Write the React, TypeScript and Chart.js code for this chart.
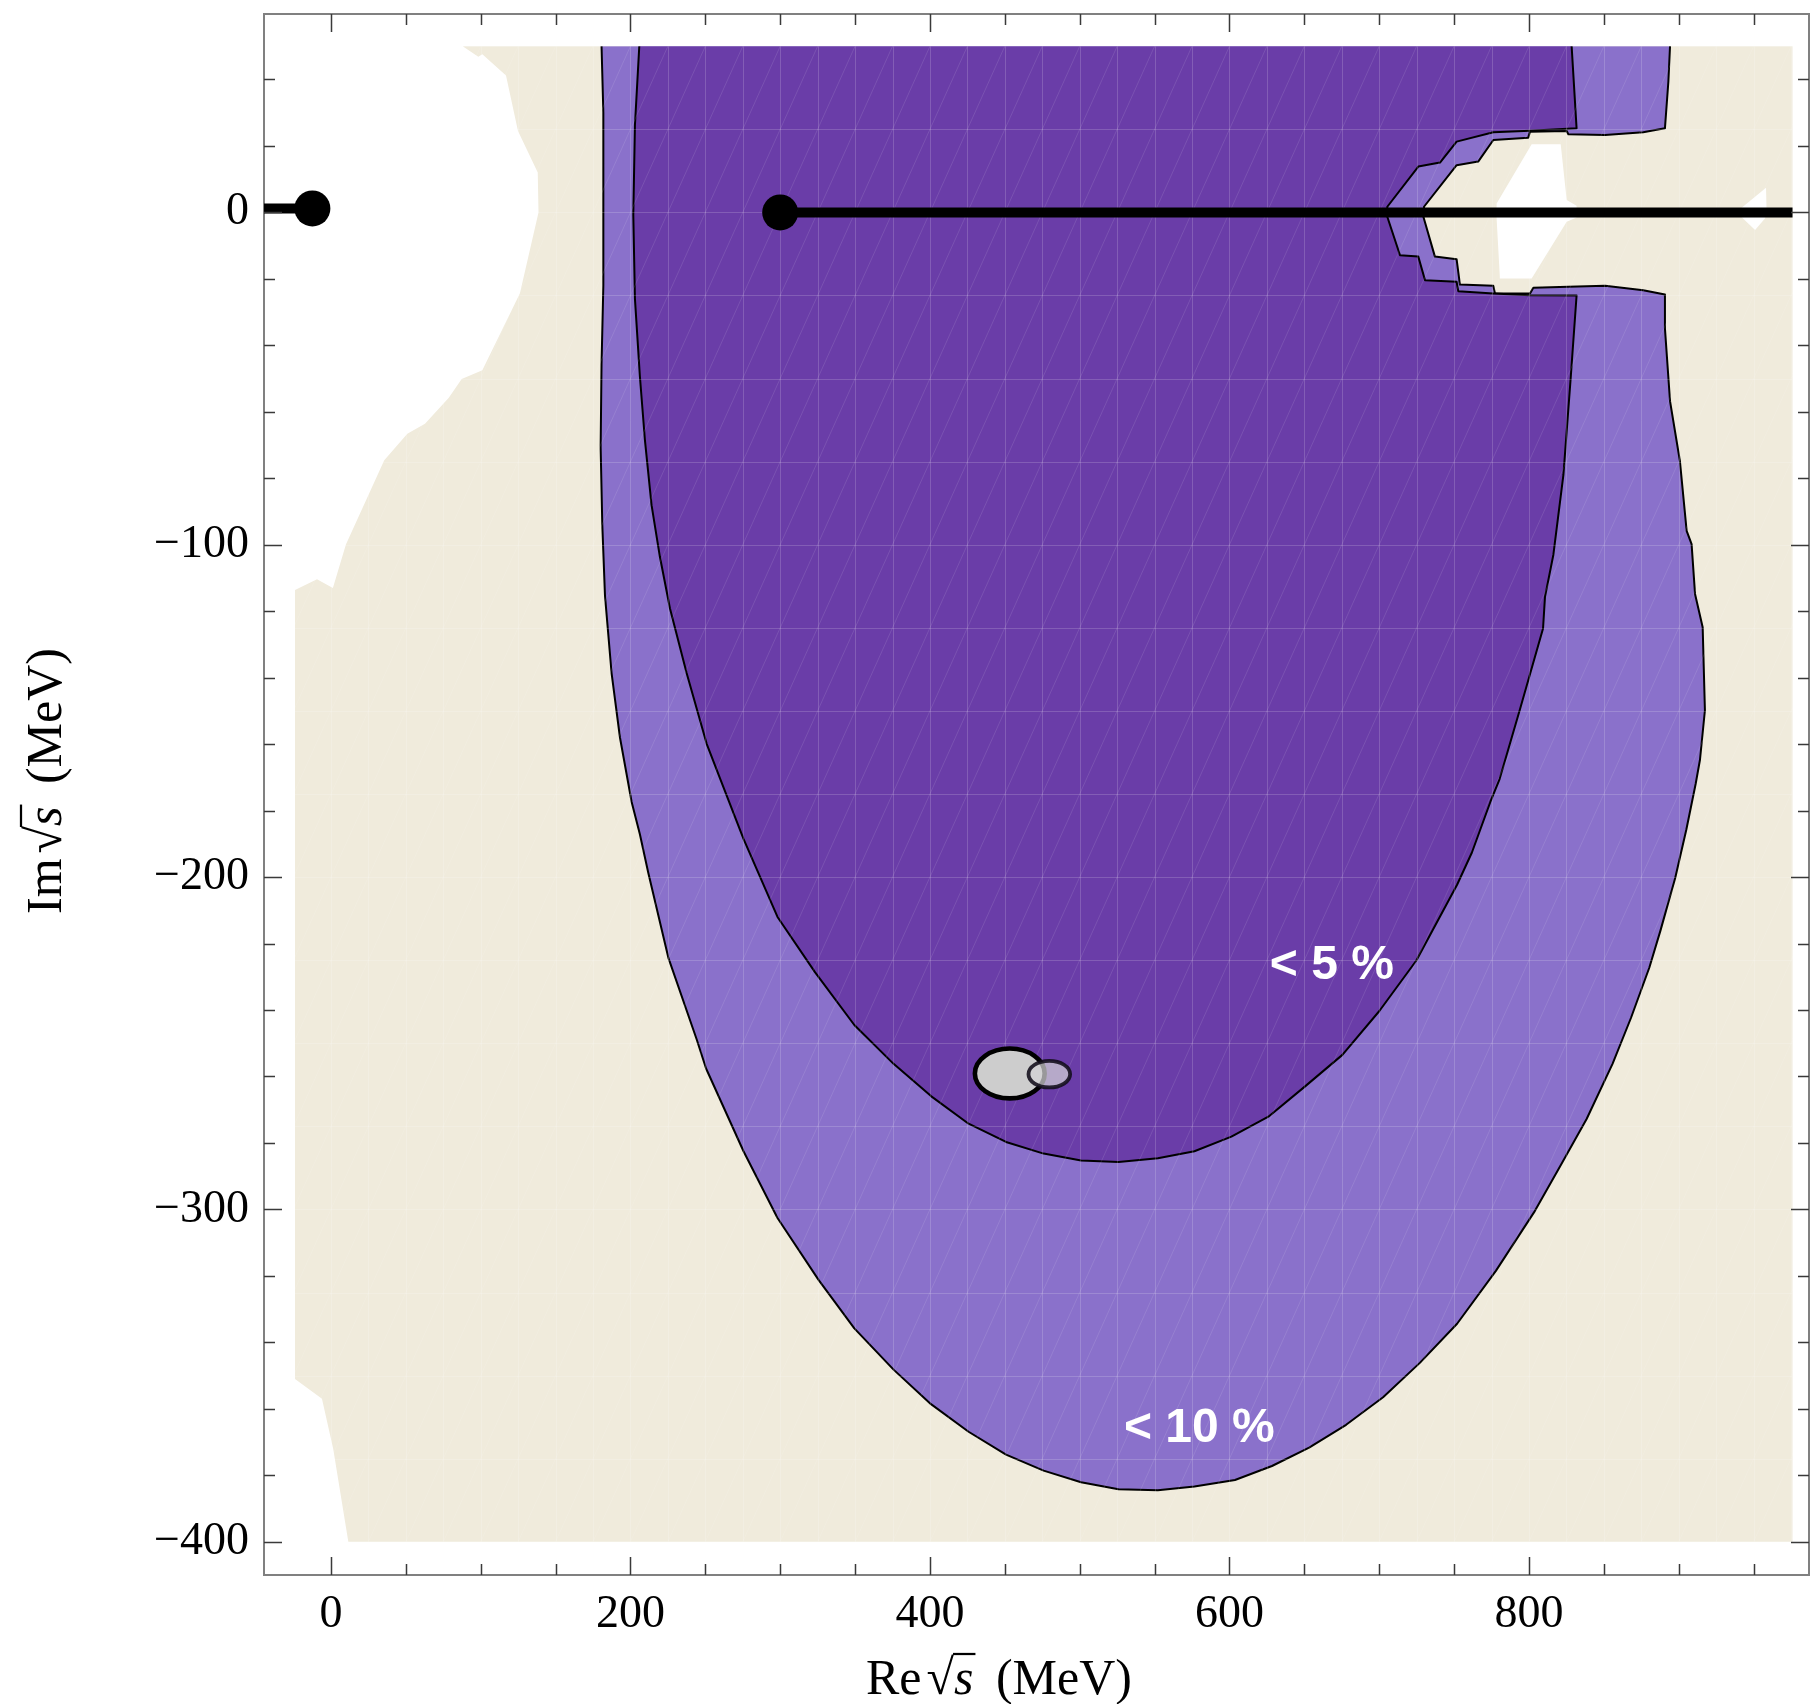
import React, { useEffect, useRef } from 'react';
import { Chart, registerables } from 'chart.js';

Chart.register(...registerables);

const W = 1810;
const H = 1704;

// ---------- axes ----------
const xMin = -44.7;
const xMax = 987;
const yMin = -410;
const yMax = 59.7;
const xTickValues = [0, 200, 400, 600, 800];
const yTickValues = [0, -100, -200, -300, -400];
const xMinorStep = 50;
const yMinorStep = 20;
const xTitleParts = ['Re', '\u221A', 's', ' (MeV)'];
const yTitleParts = ['Im', '\u221A', 's', ' (MeV)'];

type P = [number, number];

// ---------- regions (Re, Im in MeV) ----------
const computedRegion: P[] = [
  [88, 50], [976, 50], [976, -400], [11.6, -400], [1.5, -372], [-6, -357], [-24, -351],
  [-24, -113.6], [-9.3, -110.4], [1.3, -113], [10, -99.9], [35.6, -74.6], [51, -66.6],
  [62.8, -63.6], [78.7, -55.8], [87.3, -50.1], [101.1, -47.5], [126.2, -24.3], [138.6, 0],
  [138.1, 12], [124.9, 24.5], [116.9, 41.2], [101.1, 47.6], [98.4, 46.8],
];

const holeCentre: P[] = [
  [801.8, 20.5], [821.2, 20.5], [825.2, 3.7], [831.8, 2], [831.8, -1.5], [825.2, -2.8],
  [801.8, -19.9], [780.6, -19.9], [778.4, -1.8], [778.4, 2.7],
];

const holeRight: P[] = [
  [941, 1], [958.3, 7.4], [958.7, 0], [957.6, -1.8], [951, -5.3], [941, -1],
];

const band10: P[] = [
  [180.7, 50], [181.9, 30], [181.9, -22], [180.7, -45.5], [180.1, -70.7], [181.2, -94],
  [183, -115.3], [187.4, -138.6], [193, -158], [200.8, -177.4], [206.3, -187.1], [211.9, -198.7],
  [225.4, -224.4], [244.2, -248.8], [250.5, -257.6], [275.5, -282.5], [298.2, -302.6],
  [325.6, -321.2], [349.5, -335.8], [375.7, -348.2], [400.7, -358.6], [425.8, -366.9],
  [450.8, -373.8], [475.9, -378.6], [500.9, -382.1], [525.9, -384.2], [552.2, -384.5],
  [576.6, -383.4], [603.7, -381.4], [628.4, -377.2], [653.2, -371.7], [677.9, -364.8],
  [702.6, -356.5], [727.3, -346.1], [752, -334.4], [777.9, -318.5], [803.9, -300.5],
  [821.2, -286.7], [838.5, -272.8], [855.8, -256.2], [868.1, -242.4], [880.4, -227.2],
  [887.8, -216.1], [897.7, -200.2], [905.1, -185.7], [911.3, -172], [914.2, -164.7],
  [917.5, -149.8], [916, -124.8], [910.9, -114.8], [908.6, -99.8], [905.3, -95.8],
  [900.8, -74.8], [894.2, -56.8], [890.8, -34.9], [890.8, -24.7], [876.3, -23.4],
  [850.8, -22.1], [826.3, -22.4], [802.9, -22.7], [800.7, -24.4], [777.3, -24.4],
  [776.2, -22.1], [753.9, -21.7], [751.7, -14.1], [737.2, -13.3], [729.5, -1.3],
  [729.9, 1.7], [751.7, 14.2], [766.1, 15.3], [776.2, 21.8], [799.5, 22.5], [800.7, 24.3],
  [825.2, 24.5], [826.3, 23.5], [850.8, 23.3], [876.3, 24.1], [890.8, 25.3], [893.1, 39.4],
  [894.2, 50],
];

const band5: P[] = [
  [205.9, 50], [203, 26.3], [201.9, -0.8], [203, -26], [206.3, -49.3], [209.7, -68.7],
  [214.1, -88.1], [219.7, -103.7], [226.4, -119.2], [237.5, -138.6], [250.9, -159.9],
  [260, -170.5], [275.5, -188.5], [298.2, -212], [323.2, -228.6], [349.5, -244.5],
  [375.7, -256.2], [400.7, -265.9], [425.8, -274.2], [450.8, -279.7], [475.9, -283.2],
  [500.9, -285.3], [525.9, -285.7], [552.2, -284.6], [576.6, -282.5], [601.3, -278.1],
  [626, -272.1], [650.7, -262.9], [675.4, -253.5], [700.1, -240.3], [724.8, -225.1],
  [752, -202.3], [761.9, -192.6], [774.2, -177.4], [780.4, -170.5], [794, -149.5],
  [809.4, -125.2], [810.7, -115.7], [816.3, -103], [823, -79], [828, -49], [831.8, -25],
  [800.7, -24.9], [776.2, -24.4], [752.8, -23.7], [751.7, -20.9], [730.6, -20.4],
  [726.1, -13.3], [713.9, -12.9], [705.4, -1.3], [705.4, 1.7], [726.1, 13.8], [740.6, 15],
  [751.7, 21.3], [776.2, 24.1], [800.7, 24.6], [831.8, 25.3], [828.5, 50],
];

// ---------- thresholds / cut ----------
const leftCut: P[] = [[-50, 1.2], [-12.4, 1.2]];
const rightCut: P[] = [[300, 0], [976, 0]];
const thresholdPoints: P[] = [[-12.4, 1.2], [300, 0]];

// ---------- poles (centre, semi-axes in MeV) ----------
const poleCentres: P[] = [[453.3, -259.1], [479.7, -259.3]];
const poleRadii: P[] = [[23.3, 7.5], [13.9, 4.0]];

// ---------- labels ----------
const bandLabels = ['< 5 %', '< 10 %'];
const bandLabelPositions: P[] = [[668.4, -226.8], [579.9, -366.1]];

// ---------- mesh ----------
const meshX: P = [-25, 976];
const meshY: P = [-400, 50];
const meshStep = 25;

// ---------- styles ----------
const BEIGE = '#F0EBDC';
const LIGHT = '#8A71CB';
const DARK = '#6A3DA8';
const SERIF = '"Liberation Serif", "Times New Roman", Times, serif';
const SANS = '"Liberation Sans", Arial, Helvetica, sans-serif';
const poleFills = ['#CDCDCD', 'rgba(212,210,214,0.72)'];
const poleStrokes = ['#000000', 'rgba(18,14,26,0.88)'];
const poleStrokeWidths = [4.6, 3.8];
const DARK_INDEX = 4;

const toXY = (pts: P[]) => pts.map(([x, y]) => ({ x, y }));

function drawTitle(ctx: CanvasRenderingContext2D, parts: string[], size: number) {
  const reg = `${size}px ${SERIF}`;
  const ita = `italic ${size}px ${SERIF}`;
  const fonts = [reg, reg, ita, reg];
  const gaps = [5, 0, 10, 0];
  ctx.textAlign = 'left';
  ctx.textBaseline = 'alphabetic';
  ctx.fillStyle = '#000';
  ctx.strokeStyle = '#000';
  let cur = 0;
  parts.forEach((p, i) => {
    ctx.font = fonts[i];
    const w = ctx.measureText(p).width;
    ctx.fillText(p, cur, 0);
    if (i === 2) {
      ctx.lineWidth = size * 0.045;
      ctx.beginPath();
      ctx.moveTo(cur - 1, -size * 0.8);
      ctx.lineTo(cur + w + 2, -size * 0.8);
      ctx.stroke();
    }
    cur += w + gaps[i];
  });
}

const decorPlugin = {
  id: 'decor',
  afterDatasetDraw(chart: any, args: any) {
    if (args.index !== DARK_INDEX) return;
    const { ctx, chartArea: ca } = chart;
    const x = chart.scales.x;
    const y = chart.scales.y;
    const l = x.getPixelForValue(meshX[0]);
    const r = x.getPixelForValue(meshX[1]);
    const t = y.getPixelForValue(meshY[1]);
    const b = y.getPixelForValue(meshY[0]);
    ctx.save();
    ctx.beginPath();
    ctx.rect(ca.left, ca.top, ca.right - ca.left, ca.bottom - ca.top);
    ctx.clip();
    ctx.beginPath();
    ctx.rect(l, t, r - l, b - t);
    ctx.clip();
    ctx.lineWidth = 1;
    ctx.strokeStyle = 'rgba(255,255,255,0.17)';
    ctx.beginPath();
    for (let v = meshX[0]; v <= meshX[1]; v += meshStep) {
      const px = Math.round(x.getPixelForValue(v)) + 0.5;
      ctx.moveTo(px, t);
      ctx.lineTo(px, b);
    }
    for (let v = meshY[0]; v <= meshY[1]; v += meshStep) {
      const py = Math.round(y.getPixelForValue(v)) + 0.5;
      ctx.moveTo(l, py);
      ctx.lineTo(r, py);
    }
    ctx.stroke();
    ctx.strokeStyle = 'rgba(255,255,255,0.11)';
    ctx.beginPath();
    for (let c = meshX[0] - meshY[1]; c <= meshX[1] - meshY[0]; c += meshStep) {
      ctx.moveTo(x.getPixelForValue(c + meshY[0]), y.getPixelForValue(meshY[0]));
      ctx.lineTo(x.getPixelForValue(c + meshY[1]), y.getPixelForValue(meshY[1]));
    }
    ctx.stroke();
    ctx.restore();
  },
  afterDatasetsDraw(chart: any) {
    const { ctx, chartArea: ca } = chart;
    const x = chart.scales.x;
    const y = chart.scales.y;
    ctx.save();
    // poles
    poleCentres.forEach(([cx, cy], i) => {
      const [rx, ry] = poleRadii[i];
      const px = x.getPixelForValue(cx);
      const py = y.getPixelForValue(cy);
      const rpx = Math.abs(x.getPixelForValue(cx + rx) - px);
      const rpy = Math.abs(y.getPixelForValue(cy + ry) - py);
      ctx.beginPath();
      ctx.ellipse(px, py, rpx, rpy, 0, 0, Math.PI * 2);
      ctx.fillStyle = poleFills[i];
      ctx.fill();
      ctx.lineWidth = poleStrokeWidths[i];
      ctx.strokeStyle = poleStrokes[i];
      ctx.stroke();
    });
    // band labels
    ctx.font = `bold 48px ${SANS}`;
    ctx.fillStyle = '#ffffff';
    ctx.textAlign = 'center';
    ctx.textBaseline = 'middle';
    bandLabels.forEach((txt, i) => {
      const [vx, vy] = bandLabelPositions[i];
      ctx.fillText(txt, x.getPixelForValue(vx), y.getPixelForValue(vy));
    });
    // frame (top, right)
    ctx.strokeStyle = '#808080';
    ctx.lineWidth = 2;
    ctx.beginPath();
    ctx.moveTo(ca.left, ca.top);
    ctx.lineTo(ca.right, ca.top);
    ctx.lineTo(ca.right, ca.bottom);
    ctx.stroke();
    // inward tick marks
    ctx.strokeStyle = '#3a3a3a';
    ctx.lineWidth = 1.5;
    ctx.beginPath();
    for (let v = Math.ceil(xMin / xMinorStep) * xMinorStep; v <= xMax; v += xMinorStep) {
      const major = xTickValues.includes(v) || v % 200 === 0;
      const len = major ? 18 : 11;
      const px = Math.round(x.getPixelForValue(v)) + 0.5;
      ctx.moveTo(px, ca.bottom);
      ctx.lineTo(px, ca.bottom - len);
      ctx.moveTo(px, ca.top);
      ctx.lineTo(px, ca.top + len);
    }
    for (let v = Math.ceil(yMin / yMinorStep) * yMinorStep; v <= yMax - 15; v += yMinorStep) {
      const major = yTickValues.includes(v) || v % 100 === 0;
      const len = major ? 18 : 11;
      const py = Math.round(y.getPixelForValue(v)) + 0.5;
      ctx.moveTo(ca.left, py);
      ctx.lineTo(ca.left + len, py);
      ctx.moveTo(ca.right, py);
      ctx.lineTo(ca.right - len, py);
    }
    ctx.stroke();
    ctx.restore();
  },
  afterDraw(chart: any) {
    const { ctx, chartArea: ca } = chart;
    // x title
    ctx.save();
    ctx.translate(ca.left + 602, ca.bottom + 119);
    drawTitle(ctx, xTitleParts, 50);
    ctx.restore();
    // y title
    ctx.save();
    ctx.translate(ca.left - 203, 914);
    ctx.rotate(-Math.PI / 2);
    drawTitle(ctx, yTitleParts, 50);
    ctx.restore();
  },
};

const fmt = (v: number) => (v < 0 ? '\u2212' + Math.abs(v) : String(v));

const zeroPad = (s: any) => {
  s.paddingLeft = 0;
  s.paddingRight = 0;
  s.paddingTop = 0;
  s.paddingBottom = 0;
};

export default function App() {
  const ref = useRef<HTMLCanvasElement | null>(null);
  useEffect(() => {
    const canvas = ref.current;
    if (!canvas) return;
    const base = { pointRadius: 0, pointHoverRadius: 0, tension: 0 };
    const chart = new Chart(canvas, {
      type: 'line',
      data: {
        datasets: [
          { ...base, label: 'computed', data: toXY(computedRegion), fill: 'shape', backgroundColor: BEIGE, borderWidth: 0, borderColor: 'rgba(0,0,0,0)', order: 10 },
          { ...base, label: 'hole', data: toXY(holeCentre), fill: 'shape', backgroundColor: '#ffffff', borderWidth: 0, borderColor: 'rgba(0,0,0,0)', order: 9 },
          { ...base, label: 'hole2', data: toXY(holeRight), fill: 'shape', backgroundColor: '#ffffff', borderWidth: 0, borderColor: 'rgba(0,0,0,0)', order: 9 },
          { ...base, label: '< 10 %', data: toXY(band10), fill: 'shape', backgroundColor: LIGHT, borderColor: '#000', borderWidth: 2, borderJoinStyle: 'round', order: 8 },
          { ...base, label: '< 5 %', data: toXY(band5), fill: 'shape', backgroundColor: DARK, borderColor: '#000', borderWidth: 2, borderJoinStyle: 'round', order: 7 },
          { ...base, label: 'cut', data: toXY(rightCut), fill: false, borderColor: '#000', borderWidth: 10, borderCapStyle: 'butt', order: 3 },
          { ...base, label: 'cutLeft', data: toXY(leftCut), fill: false, borderColor: '#000', borderWidth: 10, borderCapStyle: 'butt', order: 3, clip: 0 },
          { label: 'thresholds', data: toXY(thresholdPoints), showLine: false, fill: false, pointRadius: 18, pointHoverRadius: 18, pointBackgroundColor: '#000', pointBorderWidth: 0, borderColor: '#000', order: 2 },
        ],
      } as any,
      options: {
        responsive: false,
        devicePixelRatio: 1,
        animation: false,
        events: [],
        layout: { autoPadding: false, padding: { top: 14, right: 1, left: 0, bottom: 0 } },
        plugins: { legend: { display: false }, tooltip: { enabled: false } },
        scales: {
          x: {
            type: 'linear',
            position: 'bottom',
            min: xMin,
            max: xMax,
            afterFit: (s: any) => { s.height = 129; zeroPad(s); },
            afterBuildTicks: (s: any) => { s.ticks = xTickValues.map((value) => ({ value })); },
            grid: { display: false, drawTicks: false },
            border: { display: true, color: '#808080', width: 2 },
            ticks: { autoSkip: false, maxRotation: 0, padding: 12, color: '#000', font: { family: SERIF, size: 46 }, callback: (v: any) => fmt(Number(v)) },
          },
          y: {
            type: 'linear',
            position: 'left',
            min: yMin,
            max: yMax,
            afterFit: (s: any) => { s.width = 264; zeroPad(s); },
            afterBuildTicks: (s: any) => { s.ticks = yTickValues.map((value) => ({ value })); },
            grid: { display: false, drawTicks: false },
            border: { display: true, color: '#808080', width: 2 },
            ticks: { autoSkip: false, padding: 15, color: '#000', font: { family: SERIF, size: 46 }, callback: (v: any) => fmt(Number(v)) },
          },
        },
      } as any,
      plugins: [decorPlugin as any],
    });
    return () => chart.destroy();
  }, []);
  return (
    <div style={{ position: 'absolute', left: 0, top: 0, width: W, height: H, background: '#ffffff' }}>
      <canvas ref={ref} width={W} height={H} style={{ display: 'block', width: W, height: H }} />
    </div>
  );
}
